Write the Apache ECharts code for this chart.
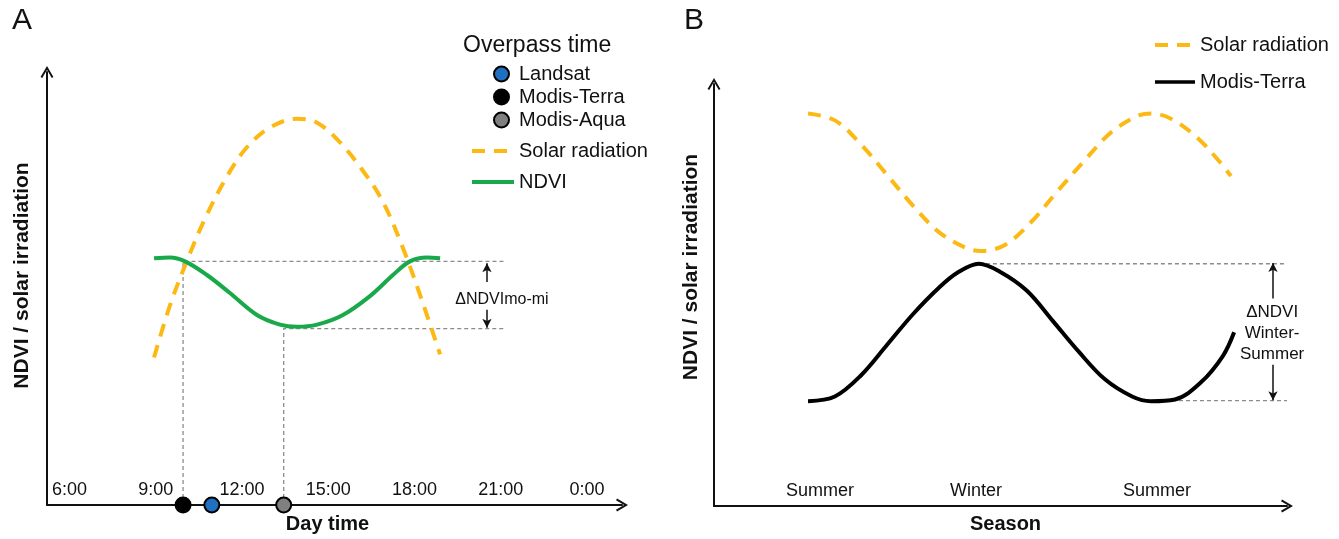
<!DOCTYPE html>
<html><head><meta charset="utf-8">
<script src="https://cdn.jsdelivr.net/npm/echarts@6/dist/echarts.min.js"></script>
<style>html,body{margin:0;padding:0;background:#fff}#c{width:1339px;height:539px}</style>
</head><body><div id="c"></div>
<script>
// ---------- Panel A : day time ----------
const hourTicks = [6, 9, 12, 15, 18, 21, 24];
const hourLabels = ['6:00', '9:00', '12:00', '15:00', '18:00', '21:00', '0:00'];
const solarDayHours = [8.94, 9.50, 10.12, 10.71, 11.48, 12.17, 12.97, 13.91, 14.61, 15.41, 16.21, 16.90, 17.60, 18.19, 18.89];
const solarDayValues = [33.6, 45.6, 56.2, 65.2, 74.9, 81.5, 86.0, 88.0, 87.1, 82.6, 76.1, 69.1, 58.5, 47.9, 34.3];
const ndviDayHours = [8.94, 9.50, 10.02, 10.78, 11.58, 12.52, 13.32, 13.91, 14.61, 15.51, 16.45, 17.25, 17.84, 18.43, 18.89];
const ndviDayValues = [56.2, 56.4, 55.5, 52.4, 48.3, 43.3, 41.1, 40.6, 41.1, 43.3, 47.6, 52.4, 55.5, 56.4, 56.2];
const overpassNames = ['Landsat', 'Modis-Terra', 'Modis-Aqua'];
const overpassHours = [10.95, 9.95, 13.45];
const overpassColors = ['#1f70c1', '#000000', '#808080'];
const ndviAtTerra = 55.5;
const ndviAtAqua = 40.2;
const dayGuideEnd = 21.18;
const dayDeltaHour = 20.52;
const dayDeltaUp = [50.8, 55.1];
const dayDeltaDown = [44.5, 40.4];
const dayDeltaText = 'ΔNDVImo-mi';
const dayDeltaTextPos = [21.04, 46.7];

// ---------- Panel B : season (months from summer) ----------
const seasonTicks = [0.42, 5.88, 12.21];
const seasonLabels = ['Summer', 'Winter', 'Summer'];
const solarSeasonMonths = [0, 0.94, 1.85, 2.76, 3.67, 4.58, 5.53, 6.05, 6.89, 7.80, 8.71, 9.66, 10.57, 11.48, 12.0, 12.70, 13.61, 14.38, 14.80];
const solarSeasonValues = [91.7, 90.1, 84.5, 77.4, 70.2, 64.0, 60.3, 59.6, 61.0, 66.3, 73.4, 80.6, 87.1, 91.0, 91.7, 90.5, 86.1, 80.6, 77.1];
const terraSeasonMonths = [0, 0.94, 1.85, 2.76, 3.67, 4.58, 5.25, 5.98, 6.70, 7.66, 8.57, 9.48, 10.39, 11.34, 12.0, 12.84, 13.75, 14.52, 14.91];
const terraSeasonValues = [24.5, 25.6, 30.5, 37.6, 44.8, 51.0, 54.6, 56.6, 54.8, 50.3, 43.2, 36.0, 29.6, 25.6, 24.5, 24.9, 28.9, 35.1, 40.6];
const winterPeak = [5.98, 56.6];
const summerLow = [12.0, 24.6];
const seasonGuideEnd = 16.76;
const seasonDeltaMonth = 16.27;
const seasonDeltaUp = [48.5, 56.8];
const seasonDeltaDown = [33.0, 24.7];
const seasonDeltaText = 'ΔNDVI\nWinter-\nSummer';
const seasonDeltaTextPos = [16.24, 40.4];

// ---------- styling ----------
const FONT = "'Liberation Sans', Arial, sans-serif";
const INK = '#111';
const ORANGE = '#FDB913';
const GREEN = '#19A94B';
const GUIDE = '#8c8c8c';
const SMOOTH = 0.35;
const arrowPath = 'path://M5,0 L10,8.5 L8.7,9.3 L5,3 L1.3,9.3 L0,8.5 Z';
const barIcon = 'path://M0,0 L40,0 L40,0.01 Z M0,3.2 L40,3.2 L40,6.8 L0,6.8 Z M0,10 L40,10 L40,9.99 Z';
const zip = (xs, ys) => xs.map((x, i) => [x, ys[i]]);

const axisLine = { show: true, onZero: false, lineStyle: { color: INK, width: 2 }, symbol: ['none', arrowPath], symbolSize: [13, 12] };
const noTicks = { show: false };
const noSplit = { show: false };

function guideSeries(xi, points, deltaX, up, down) {
  return {
    type: 'line', xAxisIndex: xi, yAxisIndex: xi, data: points, symbol: 'none', z: 1, silent: true,
    lineStyle: { color: GUIDE, width: 1.3, type: [4, 3] },
    markLine: down ? {
      silent: true, symbol: ['none', 'arrow'], symbolSize: [7, 9],
      lineStyle: { color: INK, type: 'solid', width: 1.5 }, label: { show: false },
      data: [
        [{ coord: [deltaX, up[0]] }, { coord: [deltaX, up[1]] }],
        [{ coord: [deltaX, down[0]] }, { coord: [deltaX, down[1]] }]
      ]
    } : undefined
  };
}

function textSeries(xi, pos, text, size) {
  return {
    type: 'scatter', xAxisIndex: xi, yAxisIndex: xi, data: [pos], symbol: 'circle', symbolSize: 1, silent: true,
    itemStyle: { color: 'transparent', opacity: 1 },
    label: { show: true, position: 'inside', formatter: text, color: INK, opacity: 1, fontSize: size, lineHeight: 21, fontFamily: FONT }
  };
}

const series = [];
overpassNames.forEach((n, i) => {
  series.push({
    name: n, type: 'scatter', xAxisIndex: 0, yAxisIndex: 0, data: [[overpassHours[i], 0]],
    symbol: 'circle', symbolSize: 15, clip: false, z: 6,
    itemStyle: { color: overpassColors[i], borderColor: '#000', borderWidth: 2, opacity: 1 }
  });
});
series.push({
  name: 'Solar radiation', type: 'line', xAxisIndex: 0, yAxisIndex: 0, data: zip(solarDayHours, solarDayValues),
  smooth: SMOOTH, symbol: 'none', z: 3, lineStyle: { color: ORANGE, width: 4, type: [13, 9] }, itemStyle: { color: ORANGE }
});
series.push({
  name: 'NDVI', type: 'line', xAxisIndex: 0, yAxisIndex: 0, data: zip(ndviDayHours, ndviDayValues),
  smooth: SMOOTH, symbol: 'none', z: 4, lineStyle: { color: GREEN, width: 4 }, itemStyle: { color: GREEN }
});
series.push(guideSeries(0, [[overpassHours[1], 0], [overpassHours[1], ndviAtTerra], [dayGuideEnd, ndviAtTerra]]));
series.push(guideSeries(0, [[overpassHours[2], 0], [overpassHours[2], ndviAtAqua], [dayGuideEnd, ndviAtAqua]], dayDeltaHour, dayDeltaUp, dayDeltaDown));
series.push(textSeries(0, dayDeltaTextPos, dayDeltaText, 16));

series.push({
  name: 'Solar radiation', type: 'line', xAxisIndex: 1, yAxisIndex: 1, data: zip(solarSeasonMonths, solarSeasonValues),
  smooth: SMOOTH, symbol: 'none', z: 3, lineStyle: { color: ORANGE, width: 4, type: [13, 9] }, itemStyle: { color: ORANGE }
});
series.push({
  name: 'Modis-Terra', type: 'line', xAxisIndex: 1, yAxisIndex: 1, data: zip(terraSeasonMonths, terraSeasonValues),
  smooth: SMOOTH, symbol: 'none', z: 4, lineStyle: { color: '#000', width: 4 }, itemStyle: { color: '#000' }
});
series.push(guideSeries(1, [winterPeak, [seasonGuideEnd, winterPeak[1]]]));
series.push(guideSeries(1, [summerLow, [seasonGuideEnd, summerLow[1]]], seasonDeltaMonth, seasonDeltaUp, seasonDeltaDown));
series.push(textSeries(1, seasonDeltaTextPos, seasonDeltaText, 17));

const chart = echarts.init(document.getElementById('c'));
chart.setOption({
  animation: false,
  backgroundColor: '#fff',
  textStyle: { fontFamily: FONT, color: INK },
  title: [
    { text: 'A', left: 12, top: 6, padding: 0, textStyle: { fontSize: 30, fontWeight: 'normal', color: INK, fontFamily: FONT } },
    { text: 'B', left: 684, top: 6, padding: 0, textStyle: { fontSize: 30, fontWeight: 'normal', color: INK, fontFamily: FONT } },
    { text: 'Overpass time', left: 463, top: 34, padding: 0, textStyle: { fontSize: 23, fontWeight: 'normal', color: INK, fontFamily: FONT } }
  ],
  legend: [
    { data: overpassNames, orient: 'vertical', left: 493, top: 64, padding: 0, itemWidth: 15, itemHeight: 15, itemGap: 3,
      selectedMode: false, textStyle: { fontSize: 20, color: INK, fontFamily: FONT, padding: [0, 0, 0, 5] } },
    { data: ['Solar radiation', 'NDVI'], orient: 'vertical', left: 470, top: 141, padding: 0, itemWidth: 42, itemHeight: 14, itemGap: 11,
      selectedMode: false, itemStyle: { opacity: 0 }, lineStyle: { width: 4 },
      textStyle: { fontSize: 20, color: INK, fontFamily: FONT } },
    { data: ['Solar radiation', { name: 'Modis-Terra', icon: barIcon, itemStyle: { color: '#000', borderWidth: 0, opacity: 1 } }],
      orient: 'vertical', left: 1153, top: 35, padding: 0, itemWidth: 40, itemHeight: 10, itemGap: 17,
      selectedMode: false, itemStyle: { opacity: 0 }, lineStyle: { width: 4 },
      textStyle: { fontSize: 20, color: INK, fontFamily: FONT } }
  ],
  grid: [
    { left: 47, right: 717, top: 72, bottom: 30 },
    { left: 714, right: 52, top: 84, bottom: 28 }
  ],
  xAxis: [
    { type: 'value', gridIndex: 0, min: 5.217, max: 25.217, axisLine, axisTick: noTicks, splitLine: noSplit,
      axisLabel: { inside: true, margin: 6, fontSize: 18, color: INK, fontFamily: FONT, customValues: hourTicks,
        formatter: v => hourLabels[hourTicks.indexOf(v)] },
      name: 'Day time', nameLocation: 'middle', nameGap: 9,
      nameTextStyle: { fontSize: 20, fontWeight: 'bold', color: INK, fontFamily: FONT, padding: [0, 14, 0, 0] } },
    { type: 'value', gridIndex: 1, min: -3.29, max: 16.76, axisLine, axisTick: noTicks, splitLine: noSplit,
      axisLabel: { inside: true, margin: 6, fontSize: 18, color: INK, fontFamily: FONT, customValues: seasonTicks,
        formatter: v => seasonLabels[seasonTicks.indexOf(v)] },
      name: 'Season', nameLocation: 'middle', nameGap: 8,
      nameTextStyle: { fontSize: 20, fontWeight: 'bold', color: INK, fontFamily: FONT, padding: [0, 0, 0, 10] } }
  ],
  yAxis: [
    { type: 'value', gridIndex: 0, min: 0, max: 98.65, axisLine, axisTick: noTicks, splitLine: noSplit, axisLabel: { show: false },
      name: 'NDVI / solar irradiation', nameLocation: 'middle', nameGap: 14, nameRotate: 90,
      nameTextStyle: { fontSize: 21, fontWeight: 'bold', color: INK, fontFamily: FONT, padding: [0, 0, 0, 26] } },
    { type: 'value', gridIndex: 1, min: 0, max: 98.6, axisLine, axisTick: noTicks, splitLine: noSplit, axisLabel: { show: false },
      name: 'NDVI / solar irradiation', nameLocation: 'middle', nameGap: 12, nameRotate: 90,
      nameTextStyle: { fontSize: 21, fontWeight: 'bold', color: INK, fontFamily: FONT, padding: [0, 0, 0, 56] } }
  ],
  series
});
</script></body></html>
